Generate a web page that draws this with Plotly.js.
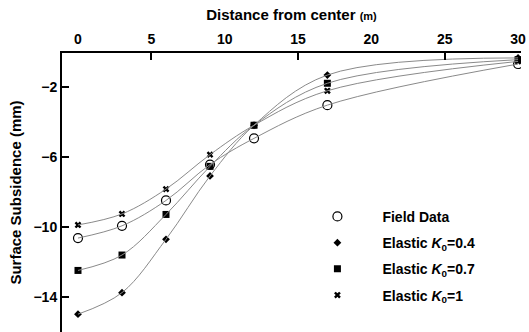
<!DOCTYPE html>
<html>
<head>
<meta charset="utf-8">
<script src="https://cdn.plot.ly/plotly-3.0.1.min.js"></script>
<style>
html,body{margin:0;padding:0;background:#fff;}
#chart{width:529px;height:332px;}
</style>
</head>
<body>
<div id="chart"></div>
<script>
const distance = [0, 3, 6, 9, 12, 17, 30];
const fieldData = [-10.65, -9.95, -8.5, -6.45, -4.95, -3.05, -0.7];
const elasticK04 = [-15.0, -13.77, -10.72, -7.1, -4.2, -1.33, -0.35];
const elasticK07 = [-12.5, -11.62, -9.3, -6.55, -4.2, -1.8, -0.45];
const elasticK1 = [-9.9, -9.27, -7.85, -5.88, -4.2, -2.23, -0.55];
const xTickVals = [0, 5, 10, 15, 20, 25, 30];
const xMinorTicks = [5, 15, 25];
const yTickVals = [-2, -6, -10, -14];

const seriesNames = ['Field Data', 'Elastic <i>K</i><sub>0</sub>=0.4', 'Elastic <i>K</i><sub>0</sub>=0.7', 'Elastic <i>K</i><sub>0</sub>=1'];
const seriesValues = [fieldData, elasticK04, elasticK07, elasticK1];
const markers = [
  {symbol: 'circle-open', size: 9, color: '#000', line: {width: 1.2, color: '#000'}},
  {symbol: 'diamond', size: 6, color: '#000'},
  {symbol: 'square', size: 7, color: '#000'},
  {symbol: 'x', size: 6, color: '#000'}
];

const traces = [];
seriesValues.forEach((vals, i) => {
  traces.push({
    x: distance, y: vals, type: 'scatter', mode: 'lines',
    line: {shape: 'spline', smoothing: 1, color: '#8a8a8a', width: 1},
    xaxis: 'x2', yaxis: 'y', showlegend: false, hoverinfo: 'skip'
  });
});
seriesValues.forEach((vals, i) => {
  traces.push({
    x: distance, y: vals, type: 'scatter', mode: 'markers',
    name: seriesNames[i], legendgroup: 'g' + i,
    marker: markers[i], xaxis: 'x', yaxis: 'y'
  });
});

const xr = [-1.09, 30.2];
const layout = {
  width: 529, height: 332,
  margin: {l: 62, r: 8, t: 53, b: 0},
  paper_bgcolor: '#fff', plot_bgcolor: '#fff',
  font: {family: 'Liberation Sans, Arial, sans-serif', color: '#000', size: 14},
  xaxis: {
    side: 'top', range: xr, tickvals: xTickVals, ticks: '',
    showline: true, linewidth: 2, linecolor: '#000', showgrid: false, zeroline: false,
    tickfont: {size: 14, weight: 'bold'},
    ticklabelstandoff: 1,
    title: {text: '<b>Distance from center <span style="font-size:11px">(m)</span></b>', font: {size: 15}, standoff: 7}
  },
  xaxis2: {
    side: 'top', overlaying: 'x', range: xr, tickvals: xMinorTicks,
    ticks: 'inside', ticklen: 7, tickwidth: 2, tickcolor: '#000',
    showticklabels: false, showline: false, showgrid: false, zeroline: false
  },
  yaxis: {
    range: [-16.02, -0.07], tickvals: yTickVals, ticks: 'inside', ticklen: 7, tickwidth: 2, tickcolor: '#000',
    showline: true, linewidth: 2, linecolor: '#000', showgrid: false, zeroline: false,
    tickfont: {size: 14, weight: 'bold'},
    title: {text: '<b>Surface Subsidence (mm)</b>', font: {size: 15}, standoff: 8}
  },
  showlegend: true,
  legend: {
    x: 0.502, y: 0.47, xanchor: 'left', yanchor: 'top',
    bgcolor: 'rgba(0,0,0,0)', borderwidth: 0,
    itemwidth: 80, tracegroupgap: 5,
    font: {size: 14, weight: 'bold', color: '#000'}
  }
};

Plotly.newPlot('chart', traces, layout, {displayModeBar: false, staticPlot: true});
</script>
</body>
</html>
